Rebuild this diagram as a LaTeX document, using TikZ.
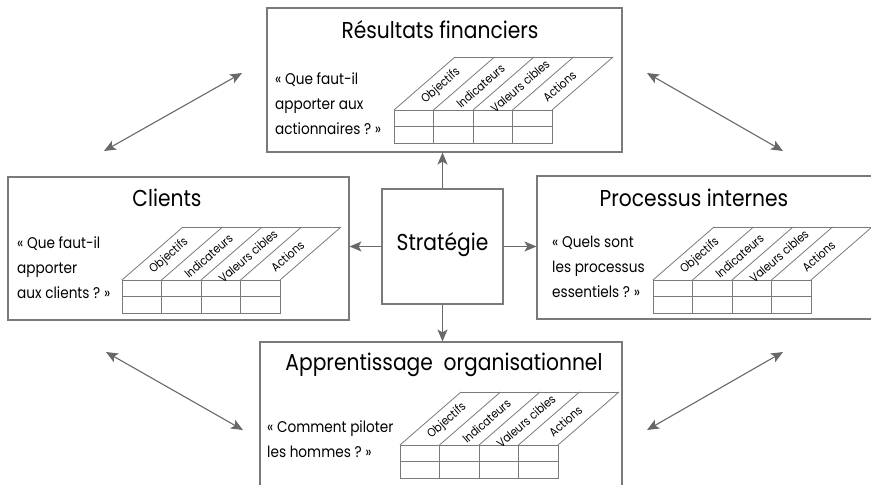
\documentclass[tikz,border=0pt]{standalone}
\usepackage{fontspec}
\setmainfont{Poppins}[FakeStretch=0.88]
\usetikzlibrary{arrows.meta}
\definecolor{linegray}{HTML}{7A7A7A}
\definecolor{arrowgray}{HTML}{68686A}
\tikzset{
  box/.style={draw=linegray, line width=1.1pt, inner sep=0pt, rectangle},
  arr/.style={draw=arrowgray, line width=1.1pt, -{Stealth[length=12pt,width=10pt,inset=3pt]}},
  darr/.style={draw=arrowgray, line width=1.1pt, {Stealth[length=12pt,width=10pt,inset=3pt]}-{Stealth[length=12pt,width=10pt,inset=3pt]}},
  ttl/.style={font=\fontsize{23}{26}\selectfont, inner sep=0pt},
  body/.style={font=\fontsize{15.5}{25}\selectfont, align=left, anchor=west, inner sep=0pt},
  gridline/.style={draw=linegray, line width=0.8pt},
  collabel/.style={font=\fontsize{12}{12}\selectfont, rotate=41, inner sep=0pt},
}
\newcommand\bsctable[2]{%
  \begin{scope}[shift={(#1,#2)}]
    \draw[gridline] (0,0) rectangle (158,33);
    \draw[gridline] (0,16.5) -- (158,16.5);
    \foreach \i in {1,2,3} \draw[gridline] (\i*39.5,0) -- (\i*39.5,33);
    \foreach \i in {0,...,4} \draw[gridline] (\i*39.5,0) -- ++(61,-53);
    \draw[gridline] (61,-53) -- (219,-53);
    \foreach \t [count=\i from 0] in {Objectifs,Indicateurs,Valeurs cibles,Actions}
      \node[collabel] at (\i*39.5+47,-24) {\t};
  \end{scope}}
\begin{document}
\begin{tikzpicture}[x=1pt,y=-1pt]
  \clip (0,0) rectangle (871,485);
  % boxes
  \node[box, minimum width=355pt, minimum height=144pt] (fin) at (444.5,80) {};
  \node[box, minimum width=341pt, minimum height=143pt] (cli) at (178.5,248.5) {};
  \node[box, minimum width=341pt, minimum height=143pt] (proc) at (707.5,247.5) {};
  \node[box, minimum width=362pt, minimum height=170pt] (app) at (441,427) {};
  \node[box, minimum width=121pt, minimum height=115pt] (strat) at (442.5,246.5) {};
  % titles
  \node[ttl] (tfin) at (440,30) {Résultats financiers};
  \node[ttl] (tcli) at (167,198) {Clients};
  \node[ttl] (tproc) at (694,198) {Processus internes};
  \node[ttl] (tapp) at (444,365) {Apprentissage\ \ organisationnel};
  \node[ttl] (tstrat) at (442.5,245) {Stratégie};
  % questions
  \node[body] (qfin) at (275,104) {«~Que faut-il\\apporter aux\\actionnaires ?~»};
  \node[body] (qcli) at (17,268) {«~Que faut-il\\apporter\\aux clients ?~»};
  \node[body] (qproc) at (552,267) {«~Quels sont\\les processus\\essentiels ?~»};
  \node[body] (qapp) at (267,439.5) {«~Comment piloter\\les hommes ?~»};
  % tables
  \bsctable{394}{110}
  \bsctable{122}{280}
  \bsctable{653}{280}
  \bsctable{400}{445}
  % strategy arrows
  \draw[arr] (strat.north) -- (strat.north |- fin.south);
  \draw[arr] (strat.south) -- (strat.south |- app.north);
  \draw[arr] (strat.west) -- (strat.west -| cli.east);
  \draw[arr] (strat.east) -- (strat.east -| proc.west);
  % diagonal arrows
  \coordinate (tl1) at (104,151);
  \coordinate (tl2) at (242,73);
  \coordinate (tr1) at (647,73);
  \coordinate (tr2) at (783,151);
  \coordinate (bl1) at (106,352);
  \coordinate (bl2) at (243,430);
  \coordinate (br1) at (783,352);
  \coordinate (br2) at (647,430);
  \draw[darr] (tl1) -- (tl2);
  \draw[darr] (tr1) -- (tr2);
  \draw[darr] (bl1) -- (bl2);
  \draw[darr] (br1) -- (br2);
\end{tikzpicture}
\end{document}
